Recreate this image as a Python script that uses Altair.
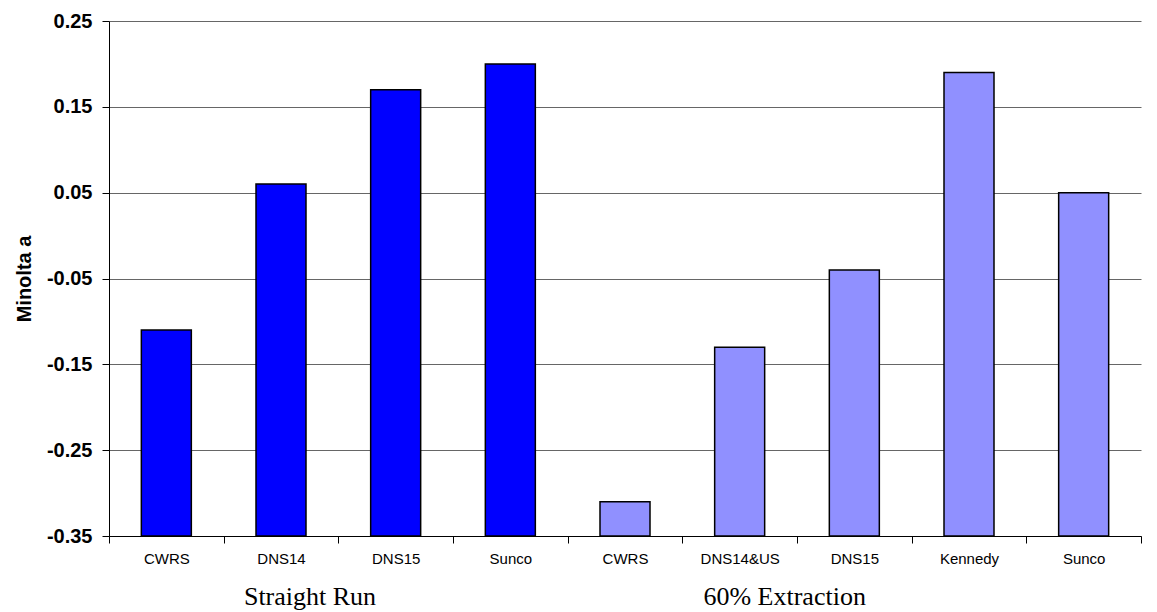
import altair as alt
import pandas as pd

categories = ["CWRS", "DNS14", "DNS15", "Sunco", "CWRS", "DNS14&US", "DNS15", "Kennedy", "Sunco"]
groups = ["Straight Run"] * 4 + ["60% Extraction"] * 5
values = [-0.11, 0.06, 0.17, 0.20, -0.31, -0.13, -0.04, 0.19, 0.05]
y_ticks = [-0.35, -0.25, -0.15, -0.05, 0.05, 0.15, 0.25]
group_names = ["Straight Run", "60% Extraction"]
group_colors = ["#0000ff", "#9090ff"]
group_label_anchor = ["Straight Run|DNS14", "60% Extraction|DNS14&US"]
group_label_dx = [29, 45]

keys = [f"{g}|{c}" for g, c in zip(groups, categories)]
df = pd.DataFrame({"key": keys, "cat": categories, "group": groups, "value": values})
lab = pd.DataFrame({"key": group_label_anchor, "text": group_names, "dx": group_label_dx})

W, H = 1032, 515
xs = alt.X("key:N", sort=keys, title=None,
           scale=alt.Scale(paddingInner=0, paddingOuter=0),
           axis=alt.Axis(labelExpr="split(datum.label,'|')[1]", labelAngle=0,
                         tickBand="extent", tickSize=7, tickColor="#000",
                         domainColor="#000", labelFont="Liberation Sans",
                         labelFontSize=15, labelPadding=8, labelColor="#000"))

bars = alt.Chart(df).mark_bar(size=50, stroke="#000", strokeWidth=1.5).encode(
    x=xs,
    y=alt.Y("value:Q",
            scale=alt.Scale(domain=[-0.35, 0.25], nice=False, zero=False),
            axis=alt.Axis(values=y_ticks, title="Minolta a",
                          labelExpr="(datum.value < 0 ? '-' : '') + format(abs(datum.value), '.2f')",
                          labelFont="Liberation Sans", labelFontSize=20,
                          labelFontWeight="bold", labelColor="#000",
                          tickSize=7, tickColor="#000", domainColor="#000",
                          labelPadding=10, gridColor="#666", gridWidth=1,
                          titleFont="Liberation Sans", titleFontSize=20,
                          titleFontWeight="bold", titleColor="#000",
                          titleX=-85, titleY=H / 2, titleAngle=-90,
                          titleAlign="center", titleBaseline="middle")),
    y2=alt.datum(-0.35),
    color=alt.Color("group:N", scale=alt.Scale(domain=group_names, range=group_colors), legend=None),
)

texts = []
for i in range(len(group_names)):
    texts.append(
        alt.Chart(lab.iloc[[i]]).mark_text(font="Liberation Serif", fontSize=26,
                                           color="#000", dy=69, dx=group_label_dx[i],
                                           baseline="alphabetic").encode(
            x=alt.X("key:N", sort=keys),
            y=alt.datum(-0.35),
            text="text:N",
        )
    )

chart = alt.layer(bars, *texts).properties(
    width=W, height=H,
    autosize=alt.AutoSizeParams(type="none"),
    padding={"left": 101, "top": 13, "right": 8, "bottom": 83},
).configure_view(stroke=None).configure_axis(grid=False).configure_axisY(grid=True)

chart.save("out.html", embed_options={"renderer": "svg", "actions": False})
